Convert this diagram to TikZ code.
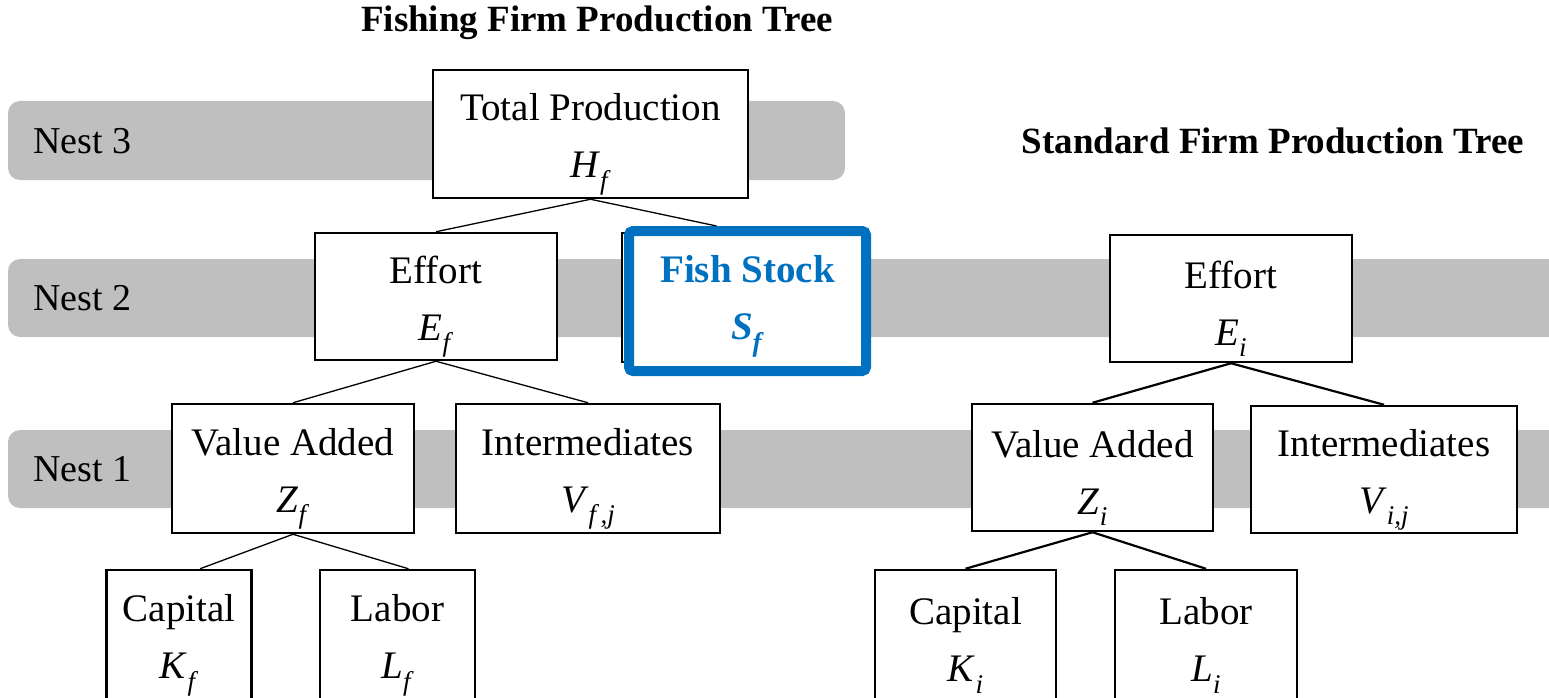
\documentclass[tikz,border=0pt]{standalone}
\usepackage{fontspec}
\setmainfont{Liberation Serif}
\usetikzlibrary{calc}
\definecolor{bandgray}{HTML}{BFBFBF}
\definecolor{fishblue}{HTML}{0070C0}
% italic variable with a lowered italic subscript
\newcommand{\mvar}[2]{\textit{#1}\raisebox{-0.3em}{\fontsize{27}{27}\selectfont\textit{#2}}}
% two-line box text; the strut on the first line sets the vertical placement
\newcommand{\boxlines}[3][48pt]{\rule{0pt}{#1}#2\\ #3}
\tikzset{
  band/.style={fill=bandgray, rounded corners=12pt},
  prodbox/.style={draw, line width=2.5pt, fill=white, inner sep=0pt, align=center,
    font=\fontsize{39}{57}\selectfont},
  nestlabel/.style={anchor=west, inner sep=0pt, font=\fontsize{38}{40}\selectfont},
  treetitle/.style={inner sep=0pt, font=\fontsize{37}{40}\selectfont\bfseries},
  thinlink/.style={line width=1.3pt},
  thicklink/.style={line width=2.2pt},
}
\begin{document}
\begin{tikzpicture}[x=1pt,y=-1pt]
\useasboundingbox (0,0) rectangle (1549,698);

% nest bands
\fill[band] (8,101) rectangle (845,180);
\fill[band] (8,259) rectangle (1575,337);
\fill[band] (8,430) rectangle (1575,508);
\node[nestlabel] (n3) at (33,141) {Nest 3};
\node[nestlabel] (n2) at (33,298) {Nest 2};
\node[nestlabel] (n1) at (33,469) {Nest 1};

% titles
\node[treetitle] (t1) at (597,23) {Fishing Firm Production Tree};
\node[treetitle] (t2) at (1273,141) {Standard Firm Production Tree};

% fishing firm tree
\node[prodbox, minimum width=315pt, minimum height=128pt] (tot) at (590.5,134) {\boxlines{Total Production}{\mvar{H}{f}}};
\node[prodbox, minimum width=242pt, minimum height=127pt] (ef) at (436,296.5) {\boxlines{Effort}{\mvar{E}{f}}};
\node[prodbox, minimum width=236pt, minimum height=129pt] (fishbg) at (740,297.5) {};
\node[draw=fishblue, line width=10pt, rounded corners=4pt, fill=white, inner sep=0pt,
      minimum width=237pt, minimum height=140pt, align=center, text=fishblue,
      font=\fontsize{39}{57}\selectfont\bfseries] (fish) at (747.5,301) {\boxlines[38pt]{Fish Stock}{\mvar{S}{f}}};
\node[prodbox, minimum width=242pt, minimum height=129pt] (va) at (293,468.5) {\boxlines{Value Added}{\mvar{Z}{f}}};
\node[prodbox, minimum width=264pt, minimum height=129pt] (im) at (588,468.5) {\boxlines{Intermediates}{\mvar{V}{f\,,j}}};
\node[prodbox, minimum width=145pt, minimum height=136pt] (cap) at (179,638) {\boxlines[42pt]{Capital}{\mvar{K}{f}}};
\node[prodbox, minimum width=155pt, minimum height=136pt] (lab) at (397.5,638) {\boxlines[42pt]{Labor}{\mvar{L}{f}}};

\draw[thinlink] (tot.south) -- (ef.north);
\draw[thinlink] (tot.south) -- ($(fish.north)+(-31,0)$);
\draw[thinlink] (ef.south) -- (va.north);
\draw[thinlink] (ef.south) -- (im.north);
\draw[thinlink] (va.south) -- ($(cap.north)+(21,0)$);
\draw[thinlink] (va.south) -- ($(lab.north)+(11,0)$);

% standard firm tree
\node[prodbox, minimum width=242pt, minimum height=127pt] (ei) at (1231,298.5) {\boxlines{Effort}{\mvar{E}{i}}};
\node[prodbox, minimum width=241pt, minimum height=127pt] (vai) at (1092.5,467.5) {\boxlines{Value Added}{\mvar{Z}{i}}};
\node[prodbox, minimum width=266pt, minimum height=127pt] (imi) at (1384,469.5) {\boxlines{Intermediates}{\mvar{V}{i,j}}};
\node[prodbox, minimum width=181pt, minimum height=136pt] (capi) at (965.5,638) {\boxlines[42pt]{Capital}{\mvar{K}{i}}};
\node[prodbox, minimum width=182pt, minimum height=136pt] (labi) at (1206,638) {\boxlines[42pt]{Labor}{\mvar{L}{i}}};

\draw[thicklink] (ei.south) -- (vai.north);
\draw[thicklink] (ei.south) -- (imi.north);
\draw[thicklink] (vai.south) -- (capi.north);
\draw[thicklink] (vai.south) -- (labi.north);
\end{tikzpicture}
\end{document}
